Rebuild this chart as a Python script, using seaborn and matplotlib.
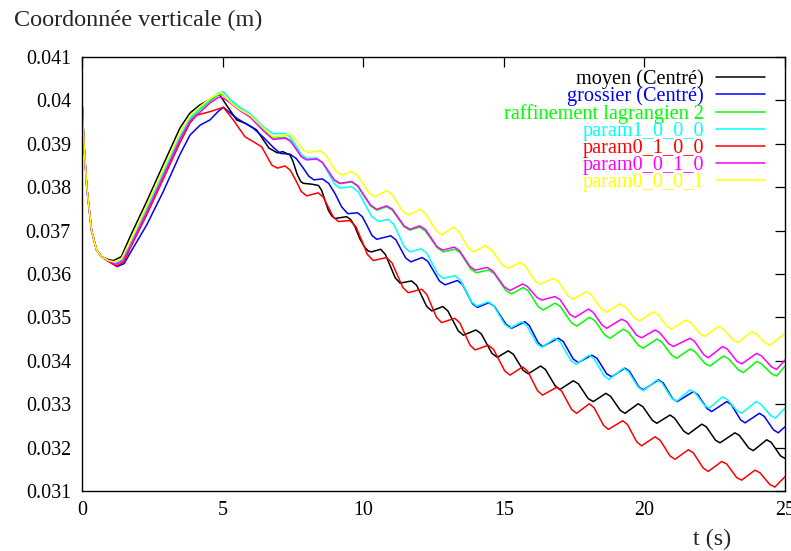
import numpy as np
import pandas as pd
import matplotlib
matplotlib.use("Agg")
import matplotlib.pyplot as plt
import seaborn as sns
from matplotlib.ticker import FuncFormatter

# ---------------- data: (t [s], vertical coordinate [mm]) ----------------
labels = ["moyen (Centré)", "grossier (Centré)", "raffinement lagrangien 2",
          "param1_0_0_0", "param0_1_0_0", "param0_0_1_0", "param0_0_0_1"]
colors = ["#000000", "#0000ff", "#00ff00", "#00ffff", "#ff0000", "#ff00ff", "#ffff00"]

moyen = [(0, 40.00), (0.07, 39.00), (0.17, 38.00), (0.34, 37.00), (0.52, 36.55), (0.70, 36.40), (0.94, 36.33),
         (1.12, 36.31), (1.40, 36.40), (1.71, 36.86), (2.30, 37.67), (2.89, 38.52), (3.48, 39.36), (3.84, 39.71),
         (4.20, 39.90), (4.55, 40.02), (4.88, 40.14), (5.14, 39.89), (5.50, 39.55), (5.85, 39.46), (6.21, 39.32),
         (6.65, 38.90), (6.95, 38.79), (7.14, 38.82), (7.40, 38.74), (7.50, 38.60), (7.65, 38.30), (7.78, 38.13),
         (7.87, 38.09), (8.17, 38.07), (8.41, 38.04), (8.52, 37.93), (8.64, 37.70), (8.76, 37.47), (8.88, 37.34),
         (9.00, 37.28), (9.41, 37.32), (9.55, 37.26), (9.70, 37.10), (9.89, 36.80), (10.05, 36.62), (10.18, 36.53),
         (10.30, 36.51), (10.62, 36.57), (10.79, 36.45), (11.14, 35.91), (11.31, 35.79), (11.72, 35.84),
         (11.90, 35.74), (12.26, 35.25), (12.44, 35.15), (12.83, 35.25), (13.01, 35.15), (13.38, 34.69),
         (13.56, 34.59), (14.01, 34.71), (14.20, 34.62), (14.58, 34.17), (14.77, 34.08), (15.16, 34.23),
         (15.34, 34.15), (15.69, 33.78), (15.87, 33.70), (16.31, 33.88), (16.48, 33.80), (16.83, 33.42),
         (17.00, 33.34), (17.47, 33.54), (17.65, 33.47), (18.00, 33.13), (18.18, 33.06), (18.63, 33.25),
         (18.80, 33.18), (19.14, 32.86), (19.31, 32.79), (19.78, 33.01), (19.95, 32.94), (20.28, 32.63),
         (20.44, 32.56), (20.91, 32.75), (21.07, 32.68), (21.40, 32.38), (21.56, 32.31), (22.04, 32.54),
         (22.20, 32.48), (22.53, 32.17), (22.69, 32.11), (23.22, 32.34), (23.38, 32.28), (23.71, 31.99),
         (23.87, 31.93), (24.35, 32.18), (24.51, 32.12), (24.84, 31.81), (25.0, 31.75)]

grossier = [(0, 40.00), (0.07, 39.00), (0.17, 38.00), (0.34, 37.00), (0.52, 36.55), (0.70, 36.40), (0.94, 36.30),
            (1.25, 36.17), (1.50, 36.24), (1.71, 36.48), (2.30, 37.13), (2.89, 37.90), (3.48, 38.75), (3.84, 39.20),
            (4.20, 39.43), (4.55, 39.55), (4.85, 39.75), (5.03, 39.84), (5.50, 39.59), (6.09, 39.36), (6.45, 39.15),
            (6.80, 38.92), (7.05, 38.78), (7.40, 38.76), (7.62, 38.66), (7.87, 38.44), (8.07, 38.25), (8.25, 38.17),
            (8.55, 38.19), (8.77, 38.09), (9.00, 37.85), (9.23, 37.55), (9.45, 37.39), (9.80, 37.41), (9.97, 37.32),
            (10.14, 37.11), (10.31, 36.89), (10.48, 36.80), (10.98, 36.88), (11.16, 36.79), (11.51, 36.37),
            (11.69, 36.28), (12.10, 36.38), (12.30, 36.29), (12.71, 35.84), (12.91, 35.75), (13.35, 35.85),
            (13.53, 35.76), (13.88, 35.32), (14.06, 35.23), (14.47, 35.34), (14.67, 35.25), (15.08, 34.84),
            (15.28, 34.75), (15.75, 34.90), (15.91, 34.81), (16.22, 34.42), (16.38, 34.33), (16.94, 34.52),
            (17.12, 34.44), (17.47, 34.04), (17.65, 33.96), (18.13, 34.13), (18.31, 34.06), (18.66, 33.70),
            (18.84, 33.63), (19.31, 33.83), (19.47, 33.76), (19.80, 33.40), (19.96, 33.33), (20.50, 33.56),
            (20.67, 33.49), (21.00, 33.13), (21.17, 33.06), (21.74, 33.29), (21.90, 33.22), (22.23, 32.90),
            (22.39, 32.83), (22.93, 33.06), (23.09, 32.99), (23.42, 32.64), (23.58, 32.57), (24.09, 32.79),
            (24.26, 32.72), (24.59, 32.41), (24.76, 32.34), (25.0, 32.48)]

raffinement = [(0, 40.00), (0.07, 39.00), (0.17, 38.00), (0.34, 37.00), (0.52, 36.55), (0.70, 36.40),
               (0.94, 36.30), (1.18, 36.24), (1.45, 36.32), (1.71, 36.67), (2.30, 37.48), (2.89, 38.32),
               (3.48, 39.13), (3.84, 39.55), (4.20, 39.79), (4.55, 39.98), (4.85, 40.13), (5.00, 40.13),
               (5.26, 39.98), (5.62, 39.79), (5.97, 39.65), (6.45, 39.33), (6.80, 39.13), (7.22, 39.15),
               (7.41, 39.08), (7.61, 38.90), (7.80, 38.71), (7.99, 38.64), (8.35, 38.66), (8.55, 38.57),
               (8.76, 38.37), (8.97, 38.16), (9.17, 38.08), (9.59, 38.12), (9.81, 38.02), (10.03, 37.80),
               (10.26, 37.57), (10.48, 37.47), (10.83, 37.55), (11.04, 37.47), (11.45, 37.09), (11.66, 37.01),
               (12.00, 37.08), (12.21, 36.99), (12.64, 36.60), (12.85, 36.51), (13.26, 36.57), (13.45, 36.49),
               (13.83, 36.11), (14.02, 36.03), (14.45, 36.09), (14.66, 36.01), (15.07, 35.62), (15.28, 35.54),
               (15.69, 35.69), (15.87, 35.61), (16.22, 35.25), (16.40, 35.17), (16.82, 35.33), (17.01, 35.25),
               (17.40, 34.88), (17.59, 34.80), (18.04, 35.00), (18.23, 34.93), (18.60, 34.59), (18.78, 34.52),
               (19.25, 34.73), (19.43, 34.66), (19.78, 34.36), (19.96, 34.29), (20.44, 34.50), (20.62, 34.43),
               (20.97, 34.13), (21.15, 34.06), (21.62, 34.27), (21.80, 34.21), (22.15, 33.94), (22.33, 33.88),
               (22.81, 34.11), (22.99, 34.05), (23.34, 33.79), (23.52, 33.73), (23.99, 33.98), (24.17, 33.93),
               (24.52, 33.70), (24.70, 33.65), (25.0, 33.88)]

param1_0_0_0 = [(0, 40.00), (0.07, 39.00), (0.17, 38.00), (0.34, 37.00), (0.52, 36.55), (0.70, 36.40),
                (0.94, 36.30), (1.18, 36.25), (1.45, 36.33), (1.71, 36.69), (2.30, 37.50), (2.89, 38.35),
                (3.48, 39.17), (3.84, 39.59), (4.20, 39.82), (4.55, 40.02), (4.85, 40.17), (5.03, 40.20),
                (5.26, 40.03), (5.62, 39.84), (5.97, 39.70), (6.45, 39.39), (6.80, 39.23), (7.22, 39.24),
                (7.41, 39.15), (7.61, 38.96), (7.80, 38.75), (7.99, 38.67), (8.35, 38.67), (8.55, 38.57),
                (8.76, 38.33), (8.97, 38.08), (9.17, 37.98), (9.59, 38.01), (9.83, 37.89), (10.06, 37.61),
                (10.30, 37.33), (10.54, 37.21), (10.89, 37.26), (11.08, 37.15), (11.47, 36.62), (11.66, 36.51),
                (12.06, 36.58), (12.26, 36.48), (12.65, 36.00), (12.85, 35.90), (13.26, 35.96), (13.46, 35.86),
                (13.85, 35.36), (14.04, 35.26), (14.45, 35.36), (14.64, 35.27), (15.03, 34.84), (15.22, 34.75),
                (15.64, 34.90), (15.82, 34.81), (16.17, 34.40), (16.35, 34.31), (16.82, 34.52), (17.01, 34.43),
                (17.38, 34.01), (17.57, 33.92), (18.03, 34.13), (18.21, 34.05), (18.57, 33.65), (18.75, 33.57),
                (19.25, 33.83), (19.43, 33.75), (19.78, 33.39), (19.96, 33.31), (20.44, 33.56), (20.62, 33.49),
                (20.97, 33.14), (21.15, 33.07), (21.62, 33.33), (21.79, 33.27), (22.14, 32.97), (22.31, 32.91),
                (22.78, 33.17), (22.95, 33.11), (23.29, 32.85), (23.46, 32.79), (23.97, 33.06), (24.14, 33.00),
                (24.49, 32.74), (24.66, 32.68), (25.0, 32.91)]

param0_1_0_0 = [(0, 40.00), (0.07, 39.00), (0.17, 38.00), (0.34, 37.00), (0.52, 36.55), (0.70, 36.40),
                (0.94, 36.29), (1.22, 36.18), (1.50, 36.28), (1.71, 36.59), (2.30, 37.36), (2.89, 38.19),
                (3.48, 39.02), (3.84, 39.48), (4.08, 39.66), (4.55, 39.74), (5.03, 39.84), (5.38, 39.55),
                (5.80, 39.16), (6.09, 39.05), (6.39, 38.93), (6.75, 38.51), (6.95, 38.44), (7.22, 38.49),
                (7.41, 38.39), (7.61, 38.15), (7.80, 37.90), (7.99, 37.80), (8.40, 37.87), (8.58, 37.77),
                (8.76, 37.54), (8.94, 37.31), (9.12, 37.21), (9.53, 37.23), (9.74, 37.09), (9.95, 36.77),
                (10.15, 36.45), (10.36, 36.31), (10.83, 36.38), (11.02, 36.26), (11.41, 35.69), (11.60, 35.57),
                (12.08, 35.65), (12.26, 35.53), (12.61, 35.00), (12.79, 34.88), (13.26, 34.98), (13.44, 34.87),
                (13.80, 34.36), (13.98, 34.25), (14.45, 34.36), (14.64, 34.26), (15.03, 33.77), (15.22, 33.67),
                (15.67, 33.86), (15.85, 33.76), (16.20, 33.31), (16.38, 33.21), (16.88, 33.39), (17.06, 33.30),
                (17.41, 32.88), (17.59, 32.79), (18.04, 33.01), (18.21, 32.92), (18.55, 32.51), (18.72, 32.42),
                (19.23, 32.62), (19.40, 32.53), (19.73, 32.13), (19.90, 32.04), (20.38, 32.25), (20.56, 32.17),
                (20.91, 31.81), (21.09, 31.73), (21.56, 31.95), (21.74, 31.88), (22.09, 31.53), (22.27, 31.45),
                (22.75, 31.68), (22.93, 31.62), (23.28, 31.31), (23.46, 31.25), (23.93, 31.48), (24.11, 31.42),
                (24.46, 31.15), (24.64, 31.09), (25.0, 31.33)]

param0_0_1_0 = [(0, 40.00), (0.07, 39.00), (0.17, 38.00), (0.34, 37.00), (0.52, 36.55), (0.70, 36.40),
                (0.94, 36.30), (1.20, 36.22), (1.45, 36.30), (1.71, 36.63), (2.30, 37.42), (2.89, 38.25),
                (3.48, 39.09), (3.84, 39.52), (4.20, 39.73), (4.55, 39.94), (4.85, 40.07), (5.00, 40.06),
                (5.26, 39.95), (5.62, 39.76), (5.97, 39.62), (6.45, 39.30), (6.80, 39.10), (7.22, 39.13),
                (7.41, 39.06), (7.61, 38.88), (7.80, 38.70), (7.99, 38.63), (8.35, 38.65), (8.55, 38.57),
                (8.76, 38.37), (8.97, 38.17), (9.17, 38.09), (9.59, 38.13), (9.81, 38.03), (10.03, 37.81),
                (10.26, 37.59), (10.48, 37.49), (10.83, 37.57), (11.04, 37.49), (11.45, 37.11), (11.66, 37.03),
                (12.00, 37.11), (12.21, 37.03), (12.62, 36.63), (12.83, 36.55), (13.24, 36.62), (13.42, 36.54),
                (13.80, 36.17), (13.98, 36.09), (14.41, 36.15), (14.61, 36.07), (15.02, 35.70), (15.22, 35.62),
                (15.67, 35.77), (15.84, 35.71), (16.18, 35.46), (16.35, 35.40), (16.82, 35.48), (17.00, 35.41),
                (17.35, 35.07), (17.53, 35.00), (18.01, 35.19), (18.17, 35.12), (18.50, 34.82), (18.66, 34.75),
                (19.19, 34.96), (19.37, 34.90), (19.72, 34.59), (19.90, 34.53), (20.38, 34.71), (20.54, 34.65),
                (20.87, 34.39), (21.03, 34.33), (21.62, 34.52), (21.78, 34.45), (22.11, 34.14), (22.27, 34.07),
                (22.78, 34.33), (22.95, 34.27), (23.29, 33.99), (23.46, 33.93), (23.99, 34.17), (24.17, 34.11),
                (24.52, 33.86), (24.70, 33.80), (25.0, 34.02)]

param0_0_0_1 = [(0, 40.00), (0.07, 39.00), (0.17, 38.00), (0.34, 37.00), (0.52, 36.55), (0.70, 36.40),
                (0.94, 36.31), (1.15, 36.28), (1.40, 36.35), (1.71, 36.75), (2.30, 37.58), (2.89, 38.42),
                (3.48, 39.25), (3.84, 39.65), (4.20, 39.86), (4.55, 40.04), (4.85, 40.15), (4.97, 40.18),
                (5.26, 39.97), (5.62, 39.78), (5.97, 39.66), (6.45, 39.36), (6.80, 39.16), (7.05, 39.18),
                (7.34, 39.22), (7.52, 39.16), (7.87, 38.86), (8.05, 38.80), (8.46, 38.84), (8.65, 38.76),
                (9.04, 38.36), (9.23, 38.28), (9.59, 38.36), (9.80, 38.27), (10.21, 37.87), (10.42, 37.78),
                (10.83, 37.92), (11.02, 37.84), (11.41, 37.44), (11.60, 37.36), (12.02, 37.49), (12.21, 37.40),
                (12.60, 36.99), (12.79, 36.90), (13.21, 37.08), (13.39, 36.99), (13.74, 36.60), (13.92, 36.51),
                (14.33, 36.65), (14.54, 36.57), (14.95, 36.21), (15.16, 36.13), (15.58, 36.27), (15.76, 36.19),
                (16.11, 35.84), (16.29, 35.76), (16.76, 35.90), (16.94, 35.83), (17.29, 35.49), (17.47, 35.42),
                (17.92, 35.59), (18.11, 35.52), (18.48, 35.19), (18.66, 35.12), (19.13, 35.31), (19.31, 35.25),
                (19.66, 34.98), (19.84, 34.92), (20.32, 35.13), (20.48, 35.07), (20.81, 34.79), (20.97, 34.73),
                (21.48, 34.94), (21.65, 34.88), (21.98, 34.62), (22.15, 34.56), (22.63, 34.79), (22.81, 34.73),
                (23.16, 34.48), (23.34, 34.42), (23.81, 34.67), (23.98, 34.62), (24.31, 34.41), (24.47, 34.36),
                (25.0, 34.63)]

x_ticks = [0, 5, 10, 15, 20, 25]
y_ticks = [0.031, 0.032, 0.033, 0.034, 0.035, 0.036, 0.037, 0.038, 0.039, 0.040, 0.041]

series = [moyen, grossier, raffinement, param1_0_0_0, param0_1_0_0, param0_0_1_0, param0_0_0_1]

frames = []
for lab, pts in zip(labels, series):
    arr = np.asarray(pts, dtype=float)
    frames.append(pd.DataFrame({"t": arr[:, 0], "y": arr[:, 1] / 1000.0, "serie": lab}))
df = pd.concat(frames, ignore_index=True)

# ---------------- figure ----------------
sns.set_theme(style="white")
plt.rcParams["font.family"] = ["Liberation Serif", "DejaVu Serif"]

W, H = 791, 551
fig = plt.figure(figsize=(W / 100, H / 100), dpi=100)
ax = fig.add_axes([82 / W, 1 - 491 / H, (785 - 82) / W, (491 - 57) / H])

sns.lineplot(data=df, x="t", y="y", hue="serie", hue_order=labels,
             palette=dict(zip(labels, colors)), estimator=None, sort=False,
             linewidth=1.1, ax=ax, legend=True)

ax.set_xlim(0, 25)
ax.set_ylim(0.031, 0.041)
ax.set_xticks(x_ticks)
ax.set_yticks(y_ticks)
ax.yaxis.set_major_formatter(FuncFormatter(lambda v, p: f"{v:g}"))
ax.tick_params(direction="in", length=7, width=0.9, top=True, right=True,
               labelsize=14.4, colors="black", pad=8)
ax.tick_params(axis="x", pad=7)
for s in ax.spines.values():
    s.set_color("black")
    s.set_linewidth(1.0)
ax.set_xlabel("")
ax.set_ylabel("")

handles = ax.get_lines()[:len(labels)]
leg = ax.legend(handles, labels, loc="upper right",
                bbox_to_anchor=((765 - 82) / (785 - 82), 1 - (69 - 57) / (491 - 57)),
                markerfirst=False, frameon=False, fontsize=14.6, labelcolor="linecolor",
                handlelength=2.4, handletextpad=0.6, labelspacing=-0.11,
                borderpad=0, borderaxespad=0)

fig.text(14 / W, 1 - 20 / H, "Coordonnée verticale (m)", fontsize=17.4, va="center", ha="left")
fig.text(712 / W, 1 - 539 / H, "t (s)", fontsize=17.4, va="center", ha="center")

fig.savefig("out.png", dpi=100)
